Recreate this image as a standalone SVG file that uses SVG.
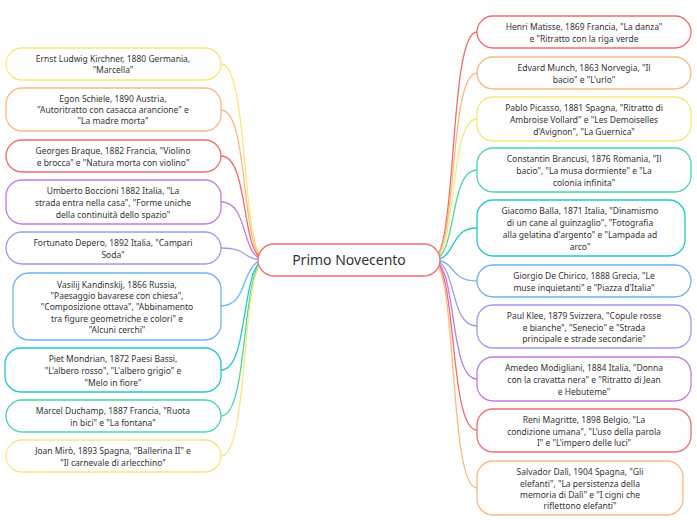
<svg xmlns="http://www.w3.org/2000/svg" width="697" height="520" viewBox="0 0 697 520">
<style>
.n rect{fill:#fff;stroke-width:1.3}
.n text{font-family:"Noto Sans","Liberation Sans",sans-serif;font-size:8.5px;fill:#333;text-anchor:middle}
.c path{fill:none;stroke-width:1.3}
.y{stroke:#f7e77a}.o{stroke:#f9b982}.r{stroke:#f36b6b}.p{stroke:#c07ae8}.i{stroke:#9b9bf5}.b{stroke:#6fb2f5}.t{stroke:#22c6d0}.g{stroke:#4ad8a0}
</style>
<rect width="697" height="520" fill="#fff"/>
<g class="c">
<path class="y" d="M266 260 C240 260 250 64 221 64"/>
<path class="o" d="M266 260 C240 260 250 110 221 110"/>
<path class="r" d="M266 260 C240 260 250 156 221 156"/>
<path class="p" d="M266 260 C240 260 250 202 221 202"/>
<path class="i" d="M266 260 C240 260 250 248 221 248"/>
<path class="b" d="M266 260 C240 260 250 306 221 306"/>
<path class="t" d="M266 260 C240 260 250 370 221 370"/>
<path class="g" d="M266 260 C240 260 250 416 221 416"/>
<path class="y" d="M266 260 C240 260 250 456 221 456"/>
<path class="r" d="M432 260 C458 260 448 32 477 32"/>
<path class="o" d="M432 260 C458 260 448 73 477 73"/>
<path class="y" d="M432 260 C458 260 448 119 477 119"/>
<path class="g" d="M432 260 C458 260 448 170 477 170"/>
<path class="t" d="M432 260 C458 260 448 228 477 228"/>
<path class="b" d="M432 260 C458 260 448 281 477 281"/>
<path class="i" d="M432 260 C458 260 448 326 477 326"/>
<path class="p" d="M432 260 C458 260 448 379 477 379"/>
<path class="r" d="M432 260 C458 260 448 430 477 430"/>
<path class="o" d="M432 260 C458 260 448 488 477 488"/>
</g>
<g id="center" class="n"><rect x="258" y="244" width="182" height="32" rx="16" class="r" stroke-width="2"/><text x="349" y="265" style="font-size:14px">Primo Novecento</text></g>
<g id="kirchner" class="n"><rect x="6" y="48" width="215" height="32" rx="16" class="y"/><text x="113" y="62">Ernst Ludwig Kirchner, 1880 Germania,</text><text x="113" y="73">"Marcella"</text></g>
<g id="schiele" class="n"><rect x="6" y="88" width="215" height="43" rx="16" class="o"/><text x="113" y="102">Egon Schiele, 1890 Austria,</text><text x="113" y="113">"Autoritratto con casacca arancione" e</text><text x="113" y="124">"La madre morta"</text></g>
<g id="braque" class="n"><rect x="6" y="140" width="215" height="32" rx="16" class="r"/><text x="113" y="154">Georges Braque, 1882 Francia, "Violino</text><text x="113" y="166">e brocca" e "Natura morta con violino"</text></g>
<g id="boccioni" class="n"><rect x="6" y="180" width="215" height="44" rx="16" class="p"/><text x="113" y="194">Umberto Boccioni 1882 Italia, "La</text><text x="113" y="206">strada entra nella casa", "Forme uniche</text><text x="113" y="218">della continuità dello spazio"</text></g>
<g id="depero" class="n"><rect x="6" y="232" width="215" height="32" rx="16" class="i"/><text x="113" y="246">Fortunato Depero, 1892 Italia, "Campari</text><text x="113" y="258">Soda"</text></g>
<g id="kandinskij" class="n"><rect x="13" y="273" width="208" height="67" rx="16" class="b"/><text x="117" y="288">Vasilij Kandinskij, 1866 Russia,</text><text x="117" y="299">"Paesaggio bavarese con chiesa",</text><text x="117" y="310">"Composizione ottava", "Abbinamento</text><text x="117" y="322">tra figure geometriche e colori" e</text><text x="117" y="333">"Alcuni cerchi"</text></g>
<g id="mondrian" class="n"><rect x="5" y="348" width="216" height="44" rx="16" class="t"/><text x="113" y="362">Piet Mondrian, 1872 Paesi Bassi,</text><text x="113" y="374">"L'albero rosso", "L'albero grigio" e</text><text x="113" y="386">"Melo in fiore"</text></g>
<g id="duchamp" class="n"><rect x="6" y="400" width="215" height="32" rx="16" class="g"/><text x="113" y="414">Marcel Duchamp, 1887 Francia, "Ruota</text><text x="113" y="426">in bici" e "La fontana"</text></g>
<g id="miro" class="n"><rect x="6" y="440" width="215" height="32" rx="16" class="y"/><text x="113" y="454">Joan Mirò, 1893 Spagna, "Ballerina II" e</text><text x="113" y="466">"Il carnevale di arlecchino"</text></g>
<g id="matisse" class="n"><rect x="477" y="16" width="214" height="32" rx="16" class="r"/><text x="584" y="30">Henri Matisse, 1869 Francia, "La danza"</text><text x="584" y="42">e "Ritratto con la riga verde</text></g>
<g id="munch" class="n"><rect x="477" y="57" width="214" height="32" rx="16" class="o"/><text x="584" y="71">Edvard Munch, 1863 Norvegia, "Il</text><text x="584" y="83">bacio" e "L'urlo"</text></g>
<g id="picasso" class="n"><rect x="477" y="97" width="214" height="44" rx="16" class="y"/><text x="584" y="111">Pablo Picasso, 1881 Spagna, "Ritratto di</text><text x="584" y="123">Ambroise Vollard" e "Les Demoiselles</text><text x="584" y="135">d'Avignon", "La Guernica"</text></g>
<g id="brancusi" class="n"><rect x="477" y="148" width="214" height="44" rx="16" class="g"/><text x="584" y="162">Constantin Brancusi, 1876 Romania, "Il</text><text x="584" y="174">bacio", "La musa dormiente" e "La</text><text x="584" y="186">colonia infinita"</text></g>
<g id="balla" class="n"><rect x="477" y="200" width="208" height="56" rx="16" class="t"/><text x="580" y="214">Giacomo Balla, 1871 Italia, "Dinamismo</text><text x="580" y="226">di un cane al guinzaglio", "Fotografia</text><text x="580" y="238">alla gelatina d'argento" e "Lampada ad</text><text x="580" y="250">arco"</text></g>
<g id="dechirico" class="n"><rect x="477" y="265" width="214" height="32" rx="16" class="b"/><text x="584" y="279">Giorgio De Chirico, 1888 Grecia, "Le</text><text x="584" y="291">muse inquietanti" e "Piazza d'Italia"</text></g>
<g id="klee" class="n"><rect x="477" y="305" width="214" height="43" rx="16" class="i"/><text x="584" y="319">Paul Klee, 1879 Svizzera, "Copule rosse</text><text x="584" y="331">e bianche",  "Senecio" e "Strada</text><text x="584" y="342">principale e strade secondarie"</text></g>
<g id="modigliani" class="n"><rect x="477" y="357" width="214" height="44" rx="16" class="p"/><text x="584" y="371">Amedeo Modigliani, 1884 Italia, "Donna</text><text x="584" y="383">con la cravatta nera" e "Ritratto di Jean</text><text x="584" y="395">e Hebuteme"</text></g>
<g id="magritte" class="n"><rect x="477" y="409" width="214" height="43" rx="16" class="r"/><text x="584" y="423">Reni Magritte, 1898 Belgio, "La</text><text x="584" y="435">condizione umana", "L'uso della parola</text><text x="584" y="446">I" e "L'impero delle luci"</text></g>
<g id="dali" class="n"><rect x="477" y="461" width="206" height="54" rx="16" class="o"/><text x="580" y="475">Salvador Dalì, 1904 Spagna, "Gli</text><text x="580" y="487">elefanti", "La persistenza della</text><text x="580" y="498">memoria di Dalì" e "I cigni che</text><text x="580" y="509">riflettono elefanti"</text></g>
</svg>
